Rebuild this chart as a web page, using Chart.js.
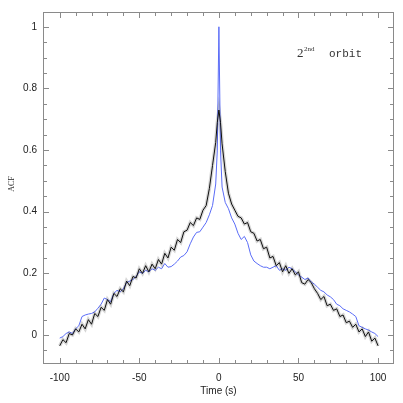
<!DOCTYPE html>
<html>
<head>
<meta charset="utf-8">
<script src="https://cdn.jsdelivr.net/npm/chart.js@4.4.1/dist/chart.umd.min.js"></script>
<style>
html,body{margin:0;padding:0;background:#fff;}
#wrap{width:403px;height:403px;}
</style>
</head>
<body>
<div id="wrap"><canvas id="c" width="403" height="403"></canvas></div>
<script>
// ---- data ----
const times = [-100,-98,-96,-94,-92,-90,-88,-86,-84,-82,-80,-78,-76,-74,-72,-70,-68,-66,-64,-62,-60,-58,-56,-54,-52,-50,-48,-46,-44,-42,-40,-38,-36,-34,-32,-30,-28,-26,-24,-22,-20,-18,-16,-14,-12,-10,-8,-6,-4,-2,-1,0,1,2,4,6,8,10,12,14,16,18,20,22,24,26,28,30,32,34,36,38,40,42,44,46,48,50,52,54,56,58,60,62,64,66,68,70,72,74,76,78,80,82,84,86,88,90,92,94,96,98,100];
const acfBlack = [-0.035,-0.015,-0.025,0.005,0.0,0.02,0.01,0.035,0.02,0.05,0.035,0.07,0.06,0.09,0.08,0.115,0.1,0.135,0.125,0.15,0.14,0.175,0.16,0.19,0.185,0.215,0.2,0.225,0.205,0.23,0.215,0.245,0.23,0.265,0.25,0.285,0.275,0.31,0.3,0.335,0.34,0.365,0.355,0.38,0.375,0.405,0.42,0.475,0.55,0.625,0.69,0.73,0.69,0.62,0.53,0.46,0.425,0.405,0.385,0.38,0.36,0.365,0.335,0.33,0.305,0.31,0.28,0.285,0.25,0.255,0.225,0.235,0.205,0.225,0.2,0.215,0.195,0.205,0.17,0.165,0.18,0.17,0.15,0.135,0.115,0.125,0.095,0.1,0.08,0.085,0.06,0.065,0.04,0.045,0.025,0.035,0.01,0.02,-0.005,0.01,-0.02,-0.01,-0.035];
const acfBlue = [-0.01,-0.005,0.005,0.01,0.005,0.02,0.03,0.06,0.065,0.068,0.07,0.075,0.087,0.1,0.12,0.115,0.108,0.135,0.145,0.14,0.15,0.17,0.175,0.18,0.19,0.205,0.2,0.21,0.205,0.215,0.21,0.22,0.215,0.232,0.22,0.222,0.23,0.24,0.253,0.258,0.27,0.296,0.318,0.333,0.335,0.35,0.365,0.39,0.42,0.49,0.6,1.0,0.6,0.48,0.43,0.41,0.38,0.36,0.33,0.31,0.32,0.3,0.26,0.24,0.232,0.225,0.22,0.22,0.215,0.22,0.225,0.21,0.215,0.21,0.22,0.215,0.205,0.195,0.188,0.18,0.185,0.172,0.165,0.155,0.145,0.14,0.13,0.124,0.115,0.1,0.095,0.085,0.08,0.075,0.068,0.06,0.03,0.025,0.02,0.016,0.01,0.005,-0.005];
const xTickLabels = [-100,-50,0,50,100];
const yTickLabels = [0,0.2,0.4,0.6,0.8,1];
const xMinorTicks = [-100,-90,-80,-70,-60,-50,-40,-30,-20,-10,0,10,20,30,40,50,60,70,80,90,100];
const yMinorTicks = [-0.05,0,0.05,0.1,0.15,0.2,0.25,0.3,0.35,0.4,0.45,0.5,0.55,0.6,0.65,0.7,0.75,0.8,0.85,0.9,0.95,1.0];
const xTitle = 'Time (s)';
const yTitle = 'ACF';

const pts = arr => times.map((t,i)=>({x:t,y:arr[i]}));

const decor = {
  id:'decor',
  afterDraw(chart){
    const ctx = chart.ctx, a = chart.chartArea;
    const xs = chart.scales.x, ys = chart.scales.y;
    ctx.save();
    ctx.strokeStyle = '#8a8a8a';
    ctx.lineWidth = 1;
    ctx.strokeRect(a.left+0.5, a.top+0.5, a.right-a.left-1, a.bottom-a.top-1);
    ctx.beginPath();
    xMinorTicks.forEach(v=>{
      const p = Math.round(xs.getPixelForValue(v))+0.5;
      const L = xTickLabels.includes(v) ? 6 : 4;
      ctx.moveTo(p,a.bottom); ctx.lineTo(p,a.bottom-L);
      ctx.moveTo(p,a.top); ctx.lineTo(p,a.top+L);
    });
    yMinorTicks.forEach(v=>{
      const p = Math.round(ys.getPixelForValue(v))+0.5;
      const L = yTickLabels.includes(v) ? 6 : 4;
      ctx.moveTo(a.left,p); ctx.lineTo(a.left+L,p);
      ctx.moveTo(a.right,p); ctx.lineTo(a.right-L,p);
    });
    ctx.stroke();
    // axis titles
    ctx.fillStyle = '#222';
    ctx.font = '10px "Liberation Sans", Arial, sans-serif';
    ctx.textAlign = 'center'; ctx.textBaseline = 'middle';
    ctx.fillText(xTitle, (a.left+a.right)/2, 391);
    ctx.save();
    ctx.translate(12, 184);
    ctx.rotate(-Math.PI/2);
    ctx.font = '8px "Liberation Serif", "DejaVu Serif", serif';
    ctx.fillText(yTitle, 0, 0);
    ctx.restore();
    // annotation
    ctx.textAlign = 'left'; ctx.textBaseline = 'alphabetic';
    ctx.fillStyle = '#333';
    ctx.font = '13px "Liberation Serif", "DejaVu Serif", serif';
    ctx.fillText('2', 297, 57);
    ctx.font = '7px "Liberation Serif", "DejaVu Serif", serif';
    ctx.fillText('2nd', 304, 51);
    ctx.font = '11px "Liberation Mono", "DejaVu Sans Mono", monospace';
    ctx.fillText('orbit', 329, 57);
    ctx.restore();
  }
};

new Chart(document.getElementById('c'), {
  type:'line',
  data:{
    datasets:[
      {data:pts(acfBlack), borderColor:'rgba(0,0,0,0.16)', borderWidth:3.5, pointRadius:0, tension:0, fill:false},
      {data:pts(acfBlack), borderColor:'#111', borderWidth:1, pointRadius:0, tension:0, fill:false},
      {data:pts(acfBlue), borderColor:'#5a6cf7', borderWidth:1, pointRadius:0, tension:0, fill:false}
    ]
  },
  options:{
    responsive:false,
    animation:false,
    events:[],
    layout:{padding:{left:0,top:10,right:9,bottom:0}},
    plugins:{legend:{display:false}, tooltip:{enabled:false}},
    scales:{
      x:{type:'linear', min:-110.5, max:110,
         grid:{display:false, drawTicks:false}, border:{display:false},
         afterBuildTicks:s=>{s.ticks = xTickLabels.map(v=>({value:v}));},
         afterFit:s=>{s.height = 39;},
         ticks:{color:'#222', padding:8, maxRotation:0, autoSkip:false, callback:v=>String(v), font:{family:'"Liberation Sans", Arial, sans-serif', size:10}}},
      y:{type:'linear', min:-0.094, max:1.048,
         grid:{display:false, drawTicks:false}, border:{display:false},
         afterBuildTicks:s=>{s.ticks = yTickLabels.map(v=>({value:v}));},
         afterFit:s=>{s.width = 43;},
         ticks:{color:'#222', padding:6, autoSkip:false, callback:v=>String(Math.round(v*10)/10), font:{family:'"Liberation Sans", Arial, sans-serif', size:10}}}
    }
  },
  plugins:[decor]
});
</script>
</body>
</html>
